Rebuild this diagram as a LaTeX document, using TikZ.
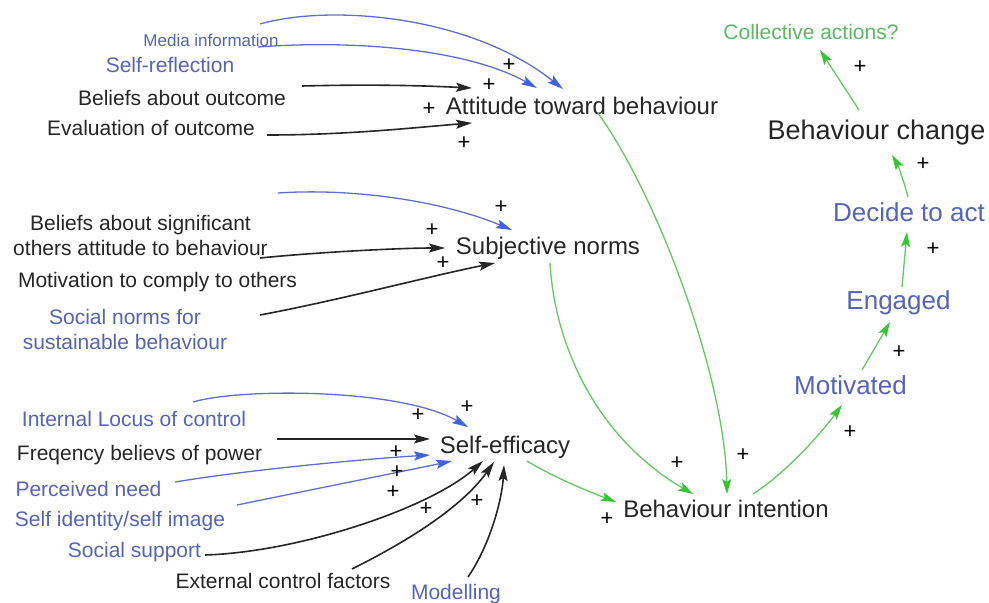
\documentclass[tikz,border=0pt]{standalone}
\usepackage{fontspec}
\setmainfont{Liberation Sans}
\usetikzlibrary{arrows.meta, calc}
\definecolor{txtblue}{RGB}{85,100,185}
\definecolor{lnblue}{RGB}{95,110,210}
\definecolor{tipblue}{RGB}{60,100,225}
\definecolor{lngreen}{RGB}{100,200,100}
\definecolor{tipgreen}{RGB}{50,200,50}
\definecolor{txtgreen}{RGB}{90,185,100}
\tikzset{
  factor/.style={inner sep=0pt, text depth=0pt, align=center, text=black!85, font=\fontsize{21}{25}\selectfont},
  newfactor/.style={factor, text=txtblue},
  concept/.style={factor, font=\fontsize{24}{28}\selectfont},
  stage/.style={factor, text=txtblue, font=\fontsize{26}{30}\selectfont},
  sign/.style={inner sep=0pt, font=\fontsize{22}{22}\selectfont},
  link/.style={line width=1.6pt, black!85, -{Stealth[length=16pt,width=9pt,inset=3pt]}},
  newlink/.style={line width=1.3pt, lnblue, -{Stealth[length=16pt,width=9pt,inset=3pt,color=tipblue]}},
  flow/.style={line width=1.3pt, lngreen, -{Stealth[length=15pt,width=9pt,inset=3pt,color=tipgreen]}},
}

\begin{document}
\begin{tikzpicture}[x=1pt,y=-1pt]
    \useasboundingbox (0,0) rectangle (989,603);

    % attitude
    \node[newfactor, font=\fontsize{17}{20}\selectfont] (media) at (211,40) {Media information};
    \node[newfactor] (selfref) at (170,65) {Self-reflection};
    \node[factor] (belout) at (182,98) {Beliefs about outcome};
    \node[factor] (evalout) at (151,128) {Evaluation of outcome};
    \node[concept] (attitude) at (582,106) {Attitude toward behaviour};

    % subjective norms
    \node[factor] (beliefsig) at (140.5,235.5) {Beliefs about significant\\others attitude to behaviour};
    \node[factor] (comply) at (157.5,280) {Motivation to comply to others};
    \node[newfactor] (socnorms) at (125,329) {Social norms for\\sustainable behaviour};
    \node[concept] (subjective) at (548,246) {Subjective norms};

    % self-efficacy
    \node[newfactor] (locus) at (134,419) {Internal Locus of control};
    \node[factor] (power) at (139.5,453) {Freqency believs of power};
    \node[newfactor] (need) at (88.5,489) {Perceived need};
    \node[newfactor] (selfid) at (120,519) {Self identity/self image};
    \node[newfactor] (support) at (134.5,550) {Social support};
    \node[factor] (external) at (283,581) {External control factors};
    \node[newfactor] (modelling) at (456,592) {Modelling};
    \node[concept] (efficacy) at (505,445) {Self-efficacy};

    % chain
    \node[concept] (intention) at (726,509) {Behaviour intention};
    \node[stage] (motivated) at (850.5,385) {Motivated};
    \node[stage] (engaged) at (898.5,300) {Engaged};
    \node[stage] (decide) at (909,212) {Decide to act};
    \node[factor, font=\fontsize{27}{30}\selectfont] (change) at (876.5,130) {Behaviour change};
    \node[factor, text=txtgreen] (collective) at (811,32) {Collective actions?};

    \draw[newlink] ($(media)+(49,-16)$) .. controls (330,4) and (470,15) .. ($(attitude)+(-19,-17)$);
    \draw[newlink] ($(selfref)+(88,-18)$) .. controls (350,40) and (465,48) .. ($(attitude)+(-45,-18)$);
    \draw[link] ($(belout)+(120,-12)$) .. controls (380,84) and (430,86) .. ($(attitude)+(-110,-18)$);
    \draw[link] ($(evalout)+(116,7)$) .. controls (350,135) and (420,127) .. ($(attitude)+(-110,17)$);

    \draw[newlink] ($(socnorms)+(153,-136)$) .. controls (350,188) and (440,200) .. ($(subjective)+(-36,-16)$);
    \draw[link] ($(beliefsig)+(119.5,22.5)$) .. controls (320,252) and (400,248) .. ($(subjective)+(-103,2)$);
    \draw[link] ($(comply)+(102.5,35)$) .. controls (340,300) and (430,276) .. ($(subjective)+(-53,17)$);

    \draw[newlink] ($(locus)+(59,-17)$) .. controls (240,388) and (400,388) .. ($(efficacy)+(-37,-18)$);
    \draw[link] ($(power)+(137.5,-14)$) -- ($(efficacy)+(-75,-6)$);
    \draw[newlink] ($(need)+(86.5,-7)$) .. controls (260,468) and (380,458) .. ($(efficacy)+(-75,10)$);
    \draw[newlink] ($(selfid)+(117,-14)$) .. controls (300,492) and (400,472) .. ($(efficacy)+(-53,16)$);
    \draw[link] ($(support)+(70.5,5)$) .. controls (300,552) and (430,508) .. ($(efficacy)+(-22,16)$);
    \draw[link] ($(external)+(69,-12)$) .. controls (400,545) and (460,510) .. ($(efficacy)+(-11,17)$);
    \draw[link] ($(modelling)+(12,-15)$) .. controls (490,545) and (502,500) .. ($(efficacy)+(-1,20)$);

    \draw[flow] ($(attitude)+(16,7)$) .. controls (660,200) and (725,380) .. ($(intention)+(1,-15)$);
    \draw[flow] ($(subjective)+(2,17)$) .. controls (555,350) and (600,440) .. ($(intention)+(-33,-15)$);
    \draw[flow] ($(efficacy)+(22,16)$) .. controls (555,478) and (590,492) .. ($(intention)+(-110,-7)$);
    \draw[flow] ($(intention)+(27,-15)$) .. controls (790,470) and (825,428) .. ($(motivated)+(-8.5,20)$);
    \draw[flow] ($(motivated)+(11.5,-15)$) -- ($(engaged)+(-8.5,22)$);
    \draw[flow] ($(engaged)+(3.5,-13)$) -- ($(decide)+(-2,20)$);
    \draw[flow] ($(decide)+(-1,-15)$) .. controls (904,182) and (898,165) .. ($(change)+(15.5,25)$);
    \draw[flow] ($(change)+(-17.5,-20)$) -- ($(collective)+(9,18)$);

    % polarity signs
    \foreach \x/\y [count=\i] in {509/65, 489/85, 429/109, 464/143, 501/207, 432/230, 443/263,
        418/415, 467/407, 396/452, 397/472, 393/492, 426/509, 477/501, 607/519,
        677/463, 743/455, 850/432, 899/352, 933/249, 923/164, 860/67}
        \node[sign] (p\i) at (\x,\y) {+};
\end{tikzpicture}
\end{document}
